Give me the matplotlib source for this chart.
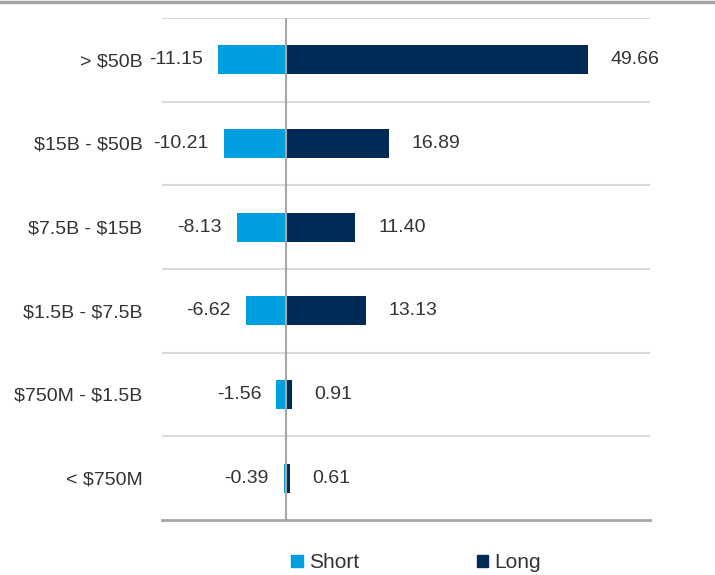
import numpy as np
import matplotlib.pyplot as plt
from matplotlib.patches import Patch
from matplotlib.lines import Line2D

categories = ["> $50B", "$15B - $50B", "$7.5B - $15B", "$1.5B - $7.5B",
              "$750M - $1.5B", "< $750M"]
short_vals = [-11.15, -10.21, -8.13, -6.62, -1.56, -0.39]
long_vals = [49.66, 16.89, 11.40, 13.13, 0.91, 0.61]

SHORT_COLOR = "#009fdf"
LONG_COLOR = "#002b57"
TEXT_COLOR = "#333333"

plt.rcParams["font.family"] = ["Liberation Sans", "DejaVu Sans"]
plt.rcParams["text.parse_math"] = False

fig = plt.figure(figsize=(7.15, 5.75), dpi=100)
ax = fig.add_axes([0.2266, 0.0957, 0.909 - 0.2266, 0.9687 - 0.0957])

y = np.arange(len(categories))
ax.barh(y, short_vals, height=0.35, color=SHORT_COLOR, zorder=2)
ax.barh(y, long_vals, height=0.35, color=LONG_COLOR, zorder=2)

# value labels beside each bar
for yi, s, l in zip(y, short_vals, long_vals):
    ax.annotate(f"{s:.2f}", (s, yi), xytext=(-11, 0), textcoords="offset points",
                ha="right", va="center", fontsize=14, color=TEXT_COLOR)
    ax.annotate(f"{l:.2f}", (l, yi), xytext=(16.5, 0), textcoords="offset points",
                ha="left", va="center", fontsize=14, color=TEXT_COLOR)

ax.set_xlim(-20.4, 59.9)
ax.set_ylim(len(categories) - 0.5, -0.5)

# horizontal separators between categories
for b in np.arange(-0.5, len(categories) - 0.5, 1.0):
    ax.axhline(b, color="#d9d9d9", lw=1.5, zorder=1)
ax.axvline(0, color="#a6a6a6", lw=1.5, zorder=3)

for side in ["top", "right", "left"]:
    ax.spines[side].set_visible(False)
ax.spines["bottom"].set_color("#a6a6a6")
ax.spines["bottom"].set_linewidth(2)
ax.set_xticks([])
ax.set_yticks(y)
ax.set_yticklabels(categories, fontsize=14, color=TEXT_COLOR)
ax.tick_params(axis="y", length=0, pad=14)

# top border line across the image
fig.add_artist(Line2D([0, 1], [0.9965, 0.9965], color="#a6a6a6", lw=2.5,
                      transform=fig.transFigure))

handles = [Patch(color=SHORT_COLOR, label="Short"),
           Patch(color=LONG_COLOR, label="Long")]
fig.legend(handles=handles, loc="center", bbox_to_anchor=(0.582, 0.021),
           ncol=2, frameon=False, fontsize=15, handlelength=0.55,
           handleheight=0.55, handletextpad=0.3, columnspacing=5.64,
           labelcolor=TEXT_COLOR)

fig.savefig("out.png", dpi=100)
